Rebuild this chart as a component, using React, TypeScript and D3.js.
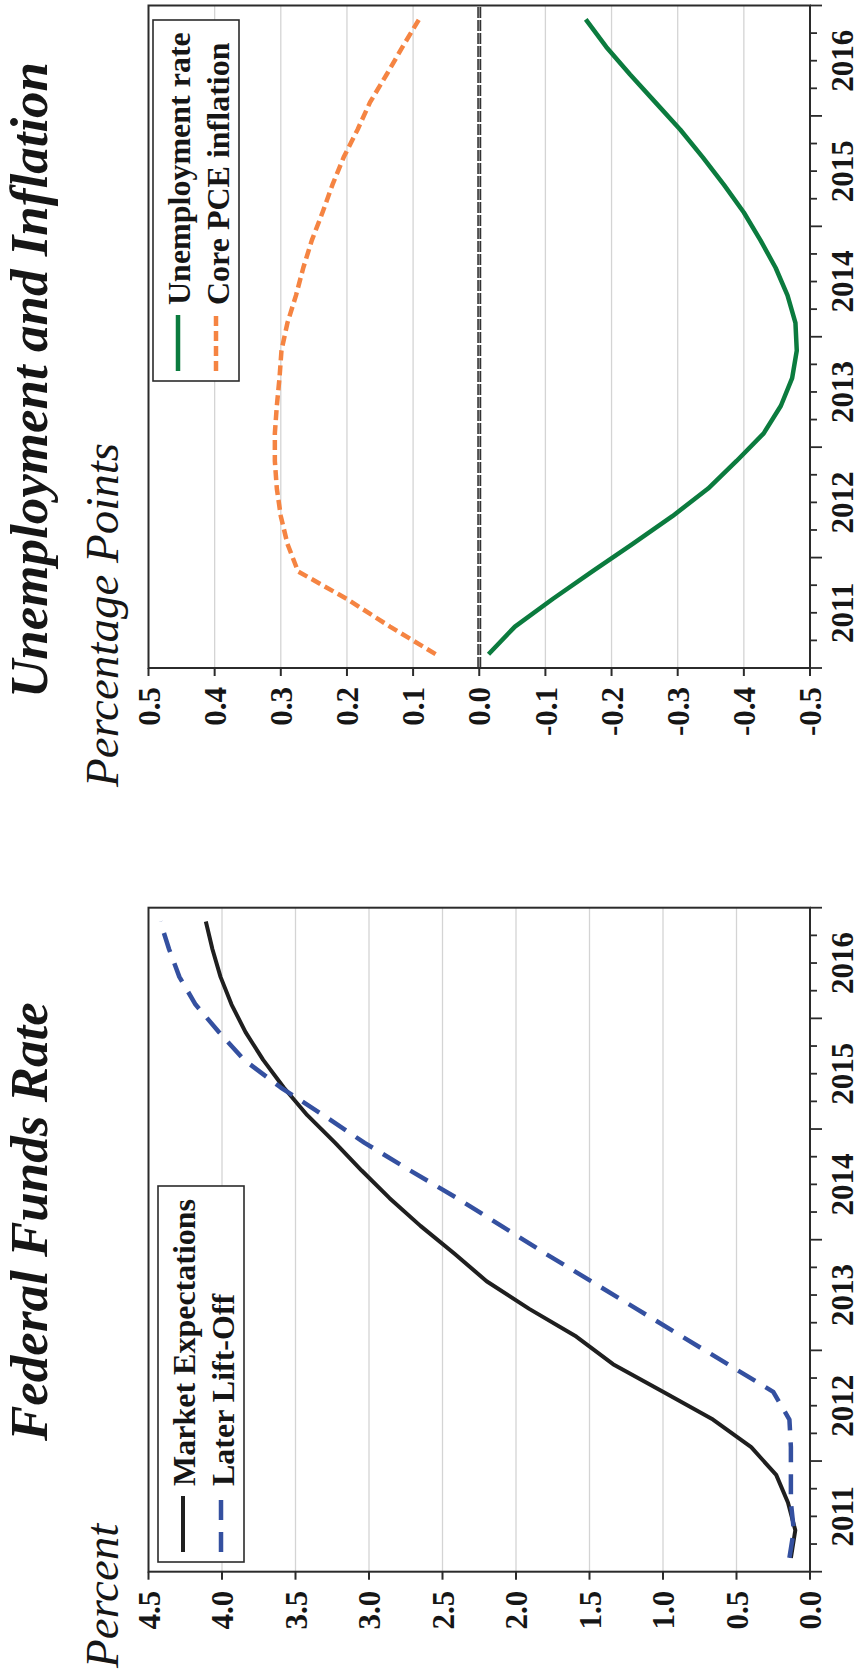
import React from "react";
import * as d3 from "d3";

// ---------- data ----------
const quarters = [
  "2011Q1", "2011Q2", "2011Q3", "2011Q4",
  "2012Q1", "2012Q2", "2012Q3", "2012Q4",
  "2013Q1", "2013Q2", "2013Q3", "2013Q4",
  "2014Q1", "2014Q2", "2014Q3", "2014Q4",
  "2015Q1", "2015Q2", "2015Q3", "2015Q4",
  "2016Q1", "2016Q2", "2016Q3", "2016Q4",
];
const years = ["2011", "2012", "2013", "2014", "2015", "2016"];

// Federal Funds Rate (percent)
const marketExpectations = [
  0.13, 0.10, 0.15, 0.23, 0.40, 0.66, 1.00, 1.34,
  1.59, 1.91, 2.20, 2.42, 2.65, 2.86, 3.05, 3.23,
  3.42, 3.58, 3.72, 3.84, 3.935, 4.01, 4.065, 4.11,
];
const laterLiftOff = [
  0.14, 0.11, 0.13, 0.13, 0.13, 0.14, 0.25, 0.56,
  0.87, 1.18, 1.49, 1.80, 2.10, 2.40, 2.72, 3.03,
  3.31, 3.60, 3.85, 4.02, 4.18, 4.29, 4.36, 4.42,
];

// Unemployment and Inflation (percentage points)
const unemploymentRate = [
  -0.014, -0.054, -0.111, -0.171, -0.232, -0.292, -0.346, -0.389,
  -0.430, -0.456, -0.473, -0.480, -0.478, -0.466, -0.448, -0.425,
  -0.400, -0.370, -0.338, -0.304, -0.266, -0.228, -0.192, -0.161,
];
const corePCEInflation = [
  0.066, 0.135, 0.200, 0.274, 0.290, 0.300, 0.306, 0.309,
  0.309, 0.306, 0.302, 0.299, 0.290, 0.277, 0.266, 0.253,
  0.237, 0.222, 0.205, 0.184, 0.165, 0.140, 0.116, 0.091,
];

const ffrTicks = [0, 0.5, 1.0, 1.5, 2.0, 2.5, 3.0, 3.5, 4.0, 4.5];
const gapTicks = [-0.5, -0.4, -0.3, -0.2, -0.1, 0, 0.1, 0.2, 0.3, 0.4, 0.5];

// ---------- styling ----------
const SERIF = "'Liberation Serif', 'Times New Roman', Times, serif";
const AXIS = "#2b2b2b";
const GRID = "#d4d4d4";
const INK = "#161616";

type Series = {
  name: string;
  values: number[];
  color: string;
  width: number;
  dash?: string;
};

type PanelProps = {
  u0: number;
  u1: number;
  vTop: number;
  vBottom: number;
  domain: [number, number];
  ticks: number[];
  series: Series[];
  zeroLine?: boolean;
  title: string;
  titleU: number;
  unitLabel: string;
  unitU: number;
  legend: { u: number; v: number; w: number; h: number };
};

function Panel(p: PanelProps) {
  const x = d3.scaleBand<string>().domain(quarters).range([p.u0, p.u1]).paddingInner(0).paddingOuter(0);
  const bw = x.bandwidth();
  const y = d3.scaleLinear().domain(p.domain).range([p.vBottom, p.vTop]);
  const line = d3
    .line<number>()
    .x((_, i) => (x(quarters[i]) as number) + bw / 2)
    .y((d) => y(d));

  const boundaries = d3.range(quarters.length + 1).map((k) =>
    k < quarters.length ? (x(quarters[k]) as number) : p.u1
  );
  const yearCenters = years.map((yr) => {
    const first = x(yr + "Q1") as number;
    const last = (x(yr + "Q4") as number) + bw;
    return (first + last) / 2;
  });

  const lg = p.legend;

  return (
    <g>
      {/* titles */}
      <text x={p.titleU} y={47} fontFamily={SERIF} fontWeight="bold" fontStyle="italic" fontSize={53} fill={INK}>
        {p.title}
      </text>
      <text x={p.unitU} y={118} fontFamily={SERIF} fontStyle="italic" fontSize={47} fill={INK}>
        {p.unitLabel}
      </text>

      {/* grid */}
      {p.ticks
        .filter((t) => t !== p.domain[0] && t !== p.domain[1] && !(p.zeroLine && t === 0))
        .map((t) => (
          <line key={"g" + t} x1={p.u0} x2={p.u1} y1={y(t)} y2={y(t)} stroke={GRID} strokeWidth={1.3} />
        ))}

      {p.zeroLine && (
        <g>
          <line x1={p.u0} x2={p.u1} y1={y(0)} y2={y(0)} stroke="#333333" strokeWidth={4} strokeDasharray="11 2" />
          <line x1={p.u0} x2={p.u1} y1={y(0)} y2={y(0)} stroke="#a8a8a8" strokeWidth={1} strokeDasharray="11 2" />
        </g>
      )}

      {/* series */}
      {p.series.map((s) => (
        <path
          key={s.name}
          d={line(s.values) || ""}
          fill="none"
          stroke={s.color}
          strokeWidth={s.width}
          strokeDasharray={s.dash}
          strokeLinejoin="round"
        />
      ))}

      {/* frame */}
      <rect
        x={p.u0}
        y={p.vTop}
        width={p.u1 - p.u0}
        height={p.vBottom - p.vTop}
        fill="none"
        stroke={AXIS}
        strokeWidth={2}
      />

      {/* value axis ticks + labels */}
      {p.ticks.map((t) => (
        <g key={"t" + t}>
          <line x1={p.u0 - 8} x2={p.u0} y1={y(t)} y2={y(t)} stroke={AXIS} strokeWidth={2} />
          <text
            x={p.u0 - 19}
            y={y(t)}
            dy="0.36em"
            textAnchor="end"
            fontFamily={SERIF}
            fontWeight="bold"
            fontSize={31}
            fill={INK}
          >
            {t.toFixed(1)}
          </text>
        </g>
      ))}

      {/* time axis ticks */}
      {boundaries.map((u, k) => (
        <line
          key={"q" + k}
          x1={u}
          x2={u}
          y1={p.vBottom}
          y2={p.vBottom + (k % 4 === 0 ? 12 : 7)}
          stroke={AXIS}
          strokeWidth={1.8}
        />
      ))}
      {years.map((yr, i) => (
        <text
          key={yr}
          x={yearCenters[i]}
          y={853}
          textAnchor="middle"
          fontFamily={SERIF}
          fontWeight="bold"
          fontSize={31}
          fill={INK}
        >
          {yr}
        </text>
      ))}

      {/* legend */}
      <rect x={lg.u} y={lg.v} width={lg.w} height={lg.h} fill="white" stroke={AXIS} strokeWidth={1.6} />
      {p.series.map((s, i) => {
        const lineV = lg.v + (i === 0 ? 25 : 63);
        const textV = lg.v + (i === 0 ? 37 : 75.5);
        return (
          <g key={"l" + s.name}>
            <line
              x1={lg.u + 10}
              x2={lg.u + 66}
              y1={lineV}
              y2={lineV}
              stroke={s.color}
              strokeWidth={s.width}
              strokeDasharray={s.dash}
            />
            <text x={lg.u + 76} y={textV} fontFamily={SERIF} fontWeight="bold" fontSize={32} fill={INK}>
              {s.name}
            </text>
          </g>
        );
      })}
    </g>
  );
}

export default function App() {
  const W = 859;
  const H = 1679;
  return (
    <svg
      width={W}
      height={H}
      viewBox={`0 0 ${W} ${H}`}
      style={{ position: "absolute", left: 0, top: 0, background: "white" }}
    >
      <rect x={0} y={0} width={W} height={H} fill="white" />
      <g transform={`translate(0,${H}) rotate(-90)`}>
        <Panel
          u0={107.3}
          u1={771.3}
          vTop={148.5}
          vBottom={810}
          domain={[0, 4.5]}
          ticks={ffrTicks}
          title="Federal Funds Rate"
          titleU={238}
          unitLabel="Percent"
          unitU={11}
          legend={{ u: 117, v: 158, w: 376, h: 86 }}
          series={[
            { name: "Market Expectations", values: marketExpectations, color: "#1f1f1f", width: 4 },
            { name: "Later Lift-Off", values: laterLiftOff, color: "#3450a0", width: 4.5, dash: "20 12" },
          ]}
        />
        <Panel
          u0={1011}
          u1={1673.5}
          vTop={148.5}
          vBottom={810}
          domain={[-0.5, 0.5]}
          ticks={gapTicks}
          zeroLine
          title="Unemployment and Inflation"
          titleU={981}
          unitLabel="Percentage Points"
          unitU={892}
          legend={{ u: 1298, v: 153, w: 361, h: 86 }}
          series={[
            { name: "Unemployment rate", values: unemploymentRate, color: "#0b7b3e", width: 4.5 },
            { name: "Core PCE inflation", values: corePCEInflation, color: "#f58442", width: 4.5, dash: "10 5" },
          ]}
        />
      </g>
    </svg>
  );
}
